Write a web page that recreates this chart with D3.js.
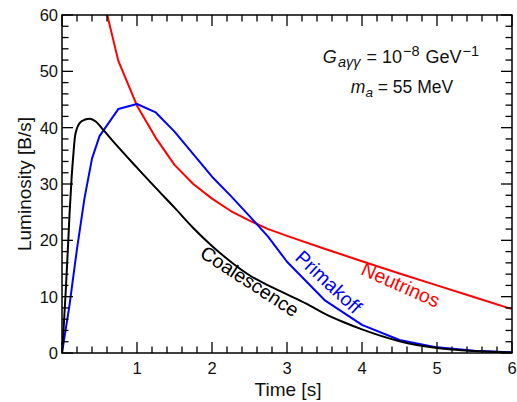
<!DOCTYPE html>
<html><head><meta charset="utf-8">
<script src="https://cdn.jsdelivr.net/npm/d3@7"></script>
<style>body{margin:0;background:#fff}svg{display:block;font-family:"Liberation Sans",Arial,sans-serif}</style>
</head><body>
<svg id="c" width="517" height="402"></svg>
<script>
const coalT = [0,0.02,0.05,0.084,0.1,0.129,0.15,0.173,0.2,0.24,0.3,0.373,0.45,0.551,0.7,0.862,1.0,1.25,1.5,1.75,2.0,2.25,2.5,2.75,3.0,3.25,3.5,3.75,4.0,4.5,5.0,5.5,6.0];
const coalL = [0,4,11,20,24.5,31.3,35,38.4,39.9,40.9,41.4,41.6,41.1,39.6,37.3,34.9,32.9,29.3,25.8,22.2,19.0,16.2,13.8,12.0,10.4,8.8,7.0,5.5,4.2,2.1,0.9,0.35,0.1];
const primT = [0,0.1,0.2,0.3,0.4,0.5,0.75,1.0,1.25,1.5,1.75,2.0,2.25,2.5,2.75,3.0,3.5,4.0,4.5,5.0,5.5,6.0];
const primL = [0,8.5,18.5,27.5,34.5,38.5,43.3,44.2,42.7,39.3,35.3,31.3,27.9,24.3,20.6,16.2,9.4,5.0,2.3,1.0,0.4,0.1];
const neutT = [0.5,0.75,1.0,1.25,1.5,1.75,2.0,2.25,2.5,2.75,3.0,3.5,4.0,4.5,5.0,5.5,6.0];
const neutL = [65.7,51.9,43.9,38.2,33.4,30.0,27.4,25.2,23.5,22.0,20.8,18.5,16.3,14.1,12.0,9.9,7.8];
const xTicks = [1,2,3,4,5,6];
const yTicks = [0,10,20,30,40,50,60];

const svg = d3.select("#c");
const L = 62, R = 512, T = 15, B = 353;
const x = d3.scaleLinear().domain([0,6]).range([L,R]);
const y = d3.scaleLinear().domain([0,60]).range([B,T]);

svg.append("defs").append("clipPath").attr("id","cp")
  .append("rect").attr("x",L).attr("y",T).attr("width",R-L).attr("height",B-T);

const g = svg.append("g").attr("clip-path","url(#cp)");
function draw(ts, ls, color, curve){
  const line = d3.line().x(d=>x(d[0])).y(d=>y(d[1])).curve(curve);
  g.append("path").datum(ts.map((t,i)=>[t,ls[i]]))
    .attr("d", line).attr("fill","none").attr("stroke",color).attr("stroke-width",2).attr("stroke-linejoin","round");
}
draw(neutT, neutL, "#ff0000", d3.curveLinear);
draw(primT, primL, "#0000ff", d3.curveLinear);
draw(coalT, coalL, "#000000", d3.curveMonotoneX);

// frame
svg.append("rect").attr("x",L).attr("y",T).attr("width",R-L).attr("height",B-T)
  .attr("fill","none").attr("stroke","#000").attr("stroke-width",1.5);

// ticks (inward)
const major = 11, minor = 6.5;
const xMinor = d3.range(0,6.001,0.2);
const yMinor = d3.range(0,60.001,2);
const tg = svg.append("g").attr("stroke","#000").attr("stroke-width",1.3);
xMinor.forEach(v=>{
  const isMaj = Math.abs(v-Math.round(v))<1e-6;
  const len = isMaj?major:minor;
  tg.append("line").attr("x1",x(v)).attr("x2",x(v)).attr("y1",B).attr("y2",B-len);
  tg.append("line").attr("x1",x(v)).attr("x2",x(v)).attr("y1",T).attr("y2",T+len);
});
yMinor.forEach(v=>{
  const isMaj = Math.abs(v/10-Math.round(v/10))<1e-6;
  const len = isMaj?major:minor;
  tg.append("line").attr("y1",y(v)).attr("y2",y(v)).attr("x1",L).attr("x2",L+len);
  tg.append("line").attr("y1",y(v)).attr("y2",y(v)).attr("x1",R).attr("x2",R-len);
});

// tick labels
svg.append("g").selectAll("text").data(xTicks).join("text")
  .attr("x",d=>x(d)).attr("y",374).attr("text-anchor","middle")
  .attr("font-size",16.5).attr("fill","#111").text(d=>d);
svg.append("g").selectAll("text").data(yTicks).join("text")
  .attr("x",58).attr("y",d=>y(d)+6).attr("text-anchor","end")
  .attr("font-size",16.5).attr("fill","#111").text(d=>d);

// axis titles
svg.append("text").attr("x",288).attr("y",396).attr("text-anchor","middle")
  .attr("font-size",19).attr("fill","#111").text("Time [s]");
svg.append("text").attr("transform","translate(31,184) rotate(-90)").attr("text-anchor","middle")
  .attr("font-size",19).attr("fill","#111").text("Luminosity [B/s]");

// annotation
const a1 = svg.append("text").attr("x",401).attr("y",63).attr("text-anchor","middle").attr("font-size",18).attr("fill","#111");
a1.append("tspan").attr("font-style","italic").text("G");
a1.append("tspan").attr("font-style","italic").attr("font-size",14.5).attr("dy",4).attr("dx",1).text("aγγ");
a1.append("tspan").attr("dy",-4).attr("dx",1).text(" = 10");
a1.append("tspan").attr("font-size",14.5).attr("dy",-7).attr("dx",1).text("−8");
a1.append("tspan").attr("dy",7).attr("dx",1).text(" GeV");
a1.append("tspan").attr("font-size",14.5).attr("dy",-7).attr("dx",1).text("−1");
const a2 = svg.append("text").attr("x",402).attr("y",93).attr("text-anchor","middle").attr("font-size",17.5).attr("fill","#111");
a2.append("tspan").attr("font-style","italic").text("m");
a2.append("tspan").attr("font-style","italic").attr("font-size",13.5).attr("dy",4).text("a");
a2.append("tspan").attr("dy",-4).text(" = 55 MeV");

// curve labels
svg.append("text").attr("transform","translate(246,287) rotate(33)").attr("text-anchor","middle")
  .attr("font-size",19.5).attr("fill","#000").text("Coalescence");
svg.append("text").attr("transform","translate(324,287) rotate(43)").attr("text-anchor","middle")
  .attr("font-size",19.5).attr("fill","#0000ff").text("Primakoff");
svg.append("text").attr("transform","translate(398,291) rotate(24)").attr("text-anchor","middle")
  .attr("font-size",19.5).attr("fill","#ff0000").text("Neutrinos");
</script>
</body></html>
